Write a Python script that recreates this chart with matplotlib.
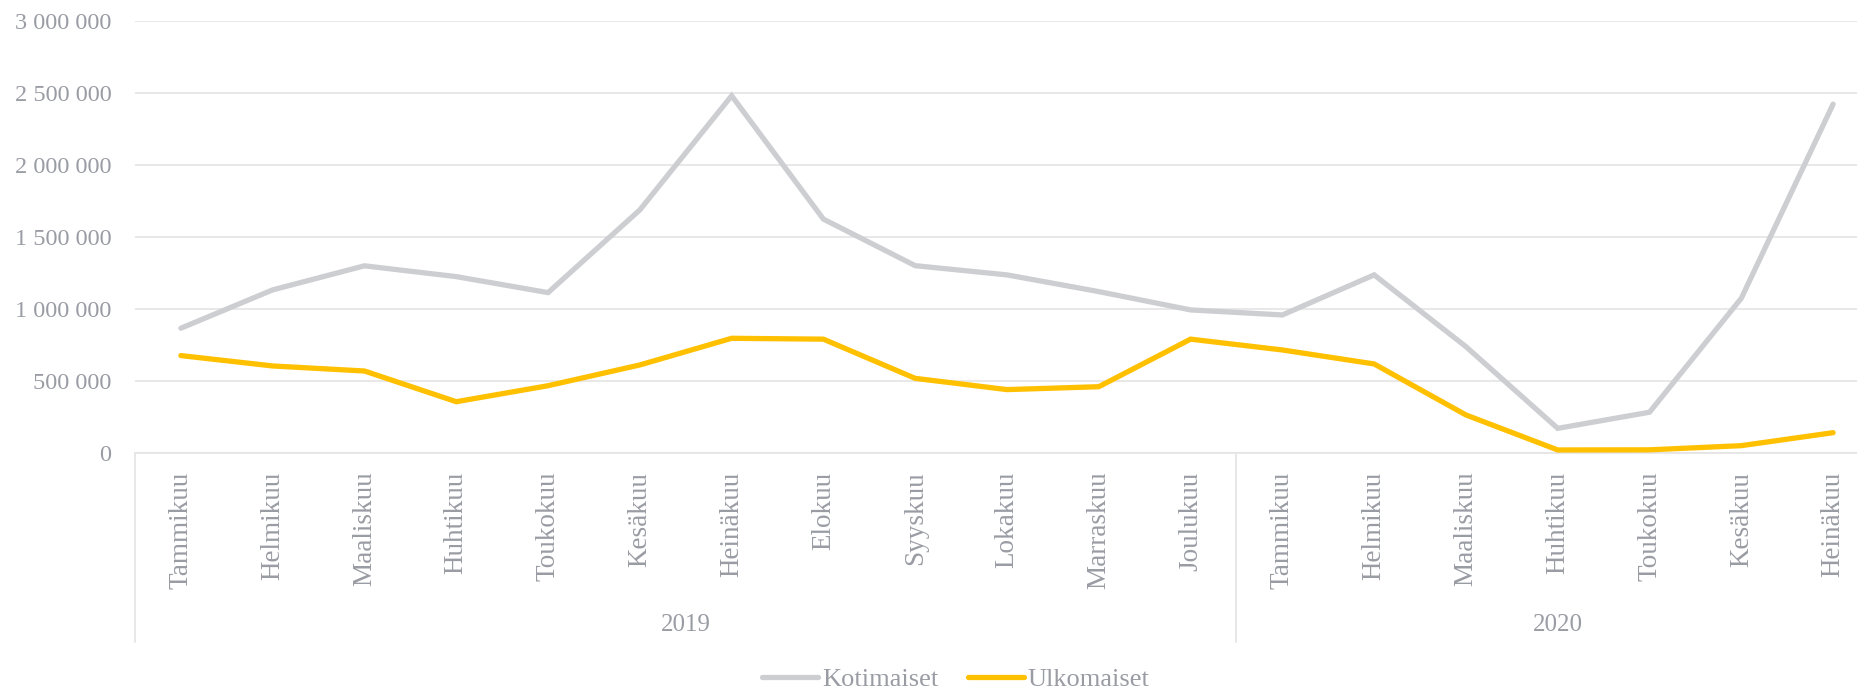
import matplotlib
matplotlib.use("Agg")
import matplotlib.pyplot as plt
from matplotlib.lines import Line2D
from matplotlib.ticker import FuncFormatter
import matplotlib.transforms as mtransforms

months = ["Tammikuu", "Helmikuu", "Maaliskuu", "Huhtikuu", "Toukokuu", "Kesäkuu",
          "Heinäkuu", "Elokuu", "Syyskuu", "Lokakuu", "Marraskuu", "Joulukuu",
          "Tammikuu", "Helmikuu", "Maaliskuu", "Huhtikuu", "Toukokuu", "Kesäkuu",
          "Heinäkuu"]
years = ["2019", "2020"]
year_counts = [12, 7]

kotimaiset = [866000, 1132000, 1299000, 1224000, 1113000, 1687000, 2479000,
              1623000, 1300000, 1236000, 1120000, 993000, 958000, 1236000,
              738000, 171000, 283000, 1074000, 2421000]
ulkomaiset = [676000, 604000, 569000, 356000, 467000, 611000, 796000,
              790000, 518000, 440000, 460000, 790000, 715000, 618000,
              264000, 21000, 22000, 51000, 141000]

W, H = 1858, 690
TEXT = "#9a9ca4"
GRID = "#e4e4e4"
plt.rcParams['font.family'] = ['Liberation Serif', 'DejaVu Serif']

fig = plt.figure(figsize=(W / 100, H / 100), dpi=100)
x0, x1 = 135, 1879
ytop, y0 = 20.7, 453
ax = fig.add_axes([x0 / W, (H - y0) / H, (x1 - x0) / W, (y0 - ytop) / H])

x = list(range(len(months)))
ax.plot(x, kotimaiset, color="#cdced2", lw=3.8, solid_capstyle="round",
        solid_joinstyle="miter", label="Kotimaiset", zorder=3)
ax.plot(x, ulkomaiset, color="#ffc000", lw=3.8, solid_capstyle="round",
        solid_joinstyle="miter", label="Ulkomaiset", zorder=3)

ax.set_xlim(-0.5, len(months) - 0.5)
ax.set_ylim(0, 3000000)
ax.set_yticks(range(0, 3000001, 500000))
ax.yaxis.set_major_formatter(FuncFormatter(lambda v, p: f"{int(v):,}".replace(",", " ")))
ax.grid(axis="y", color=GRID, lw=1.2)
ax.set_axisbelow(True)
for s in ["left", "right", "top"]:
    ax.spines[s].set_visible(False)
ax.spines["bottom"].set_color(GRID)
ax.spines["bottom"].set_linewidth(1.2)

FS_Y = 17.5
FS_X = 19.5
FS_YEAR = 18
FS_LEG = 19
ax.set_xticks(x)
ax.set_xticklabels(months, rotation=90, fontsize=FS_X, color=TEXT, va="top", ha="center")
ax.tick_params(axis="x", length=0, pad=13.5)
ax.tick_params(axis="y", length=0, pad=17, labelsize=FS_Y, labelcolor=TEXT)

trans = mtransforms.blended_transform_factory(ax.transData, ax.transAxes)
axh = y0 - ytop
sep_bottom = (y0 - 642) / axh
start = 0
bounds = [-0.5]
for c in year_counts:
    start += c
    bounds.append(start - 0.5)
for b in bounds:
    ax.add_line(Line2D([b, b], [0, sep_bottom], transform=trans, color=GRID,
                       lw=1.2, clip_on=False))
for i, yr in enumerate(years):
    cx = (bounds[i] + bounds[i + 1]) / 2
    ax.text(cx, (y0 - 625) / axh, yr, transform=trans, ha="center", va="center",
            fontsize=FS_YEAR, color=TEXT, clip_on=False)

leg = fig.legend(loc="center", bbox_to_anchor=(956 / W, 1 - 679 / H), ncol=2,
                 frameon=False, fontsize=FS_LEG, handlelength=2.1, handletextpad=0.15,
                 columnspacing=1.15, labelcolor=TEXT)

fig.savefig("out.png", dpi=100)
